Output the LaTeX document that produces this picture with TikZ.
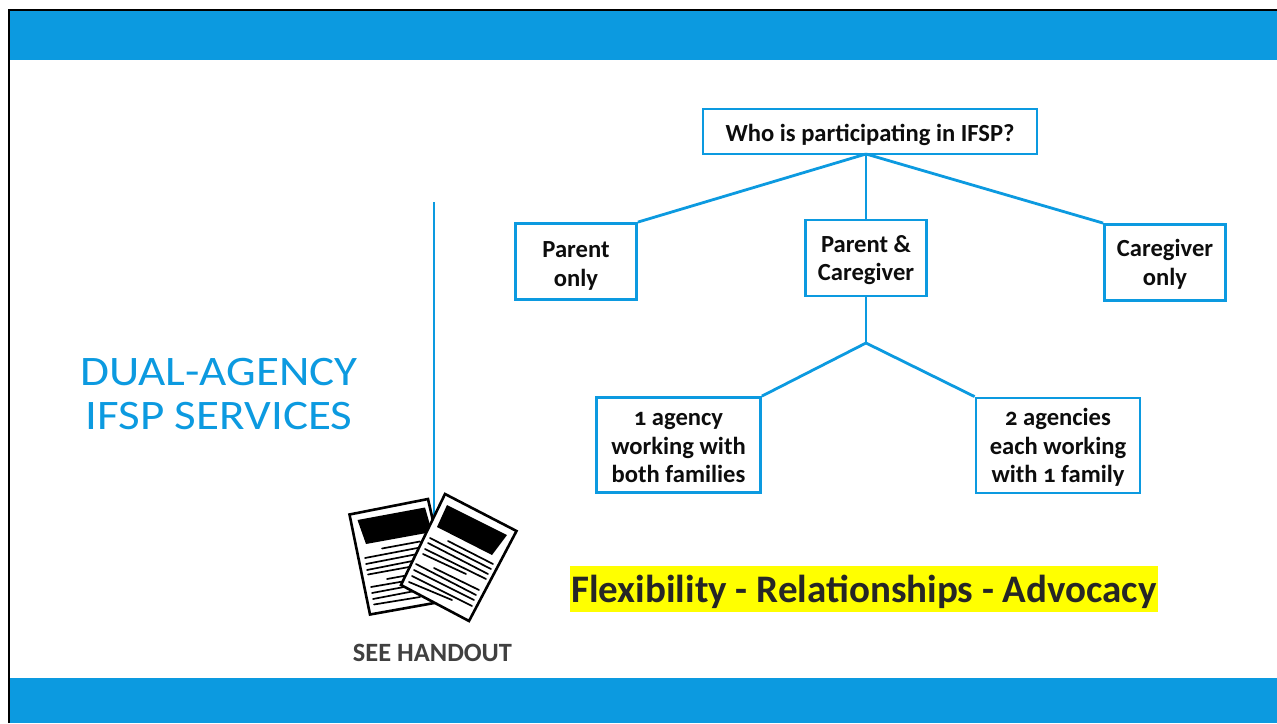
\documentclass[tikz,border=0pt]{standalone}
\usepackage{fontspec}
\setmainfont[Numbers=OldStyle]{Carlito}
\newfontfamily\titlefont[FakeStretch=1.12]{Carlito}
\definecolor{ifblue}{RGB}{12,154,224}
\definecolor{hilite}{RGB}{255,255,0}
\tikzset{x=1pt,y=-1pt,
  box/.style={draw=ifblue,line width=2.8pt,fill=white,align=center,font=\fontsize{24.6}{28.5}\selectfont\bfseries,text=black!95,inner sep=0pt,text depth=0pt},
  conn/.style={draw=ifblue,line width=2.8pt},
  band/.style={fill=ifblue,draw=none},
  ink/.style={draw=black,line width=1.7pt,line cap=round},
  sheet/.style={draw=black,fill=white,line width=2.6pt,line join=miter},
}
\begin{document}
\begin{tikzpicture}
\useasboundingbox (0,0) rectangle (1277,723);
\fill[white] (0,0) rectangle (1277,723);
\fill[band] (9,10) rectangle (1277,60);
\fill[band] (9,678) rectangle (1277,723);
\draw[black,line width=2.8pt] (9,723) -- (9,10) -- (1277,10);
% boxes
\node[box,minimum width=334pt,minimum height=45pt] (who) at (870,131.5) {\raisebox{-2.5pt}{Who is participating in IFSP?}};
\node[box,minimum width=121pt,minimum height=76pt] (parent) at (576,261.5) {\rule{0pt}{21pt}Parent\\only};
\node[box,minimum width=121pt,minimum height=76pt] (both) at (866,258) {\rule{0pt}{4pt}Parent \&\\Caregiver};
\node[box,minimum width=121pt,minimum height=76pt] (care) at (1165,262.5) {\rule{0pt}{4pt}Caregiver\\only};
\node[box,minimum width=164pt,minimum height=95pt] (one) at (678.5,445) {\rule{0pt}{18pt}1 agency\\working with\\both families};
\node[box,minimum width=164pt,minimum height=95pt] (two) at (1058,445.5) {\rule{0pt}{4pt}2 agencies\\each working\\with 1 family};
\coordinate (fork) at (866,343);
\coordinate (apex) at (866,154);
\draw[conn] (apex) -- (parent.north east);
\draw[conn] (apex) -- (both.north);
\draw[conn] (apex) -- (care.north west);
\draw[conn] (both.south) -- (fork);
\draw[conn] (fork) -- (one.north east);
\draw[conn] (fork) -- (two.north west);
% title
\node[text=ifblue,align=center,font=\titlefont\fontsize{42}{44}\selectfont] (title) at (219,394.5) {DUAL-AGENCY\\IFSP SERVICES};
\coordinate (ruleA) at (434,202);
\coordinate (ruleB) at (434,515);
\draw[ifblue,line width=2.8pt] (ruleA) -- (ruleB);
% back sheet
\draw[sheet] (349.5,514.5) -- (428,499) -- (451,600) -- (370,614.5) -- cycle;
\fill[black] (357.5,520) -- (425,507.5) -- (432,532) -- (366,544) -- cycle;
\foreach \xa/\ya/\xb/\yb in {382/548.5/420/541.5, 365/558/420/547.5, 366/564/420/553.5, 367/570/420/559.5, 368/574.5/420/565,
  387/579/420/573, 371/587/420/578.5, 372/593/420/584, 373/599/420/590, 374/604.5/420/597}
  \draw[ink] (\xa,\ya) -- (\xb,\yb);
% front sheet
\draw[sheet] (445,494) -- (516.5,531) -- (469,621) -- (401,585) -- cycle;
\fill[black] (447,505) -- (507,535) -- (492,555) -- (437,527) -- cycle;
\foreach \xa/\ya/\xb/\yb in {448/541/493/564, 430/538/491/569, 428/543/488/574, 425/549/486/579, 423/554/466/574,
  434/568/479/590, 416/564/476/595, 414/570/474/600, 412/576/472/606, 409/582/452/600}
  \draw[ink] (\xa,\ya) -- (\xb,\yb);
\node[font=\fontsize{26.4}{28}\selectfont\bfseries,text=black!75] (see) at (432.5,652.5) {SEE HANDOUT};
\node[fill=hilite,text=black!85,font=\fontsize{39}{44}\selectfont\bfseries,minimum width=588pt,minimum height=46pt,inner sep=0pt] (flex) at (864,589) {\raisebox{-13.5pt}[0pt][0pt]{Flexibility - Relationships - Advocacy}};
\end{tikzpicture}
\end{document}
